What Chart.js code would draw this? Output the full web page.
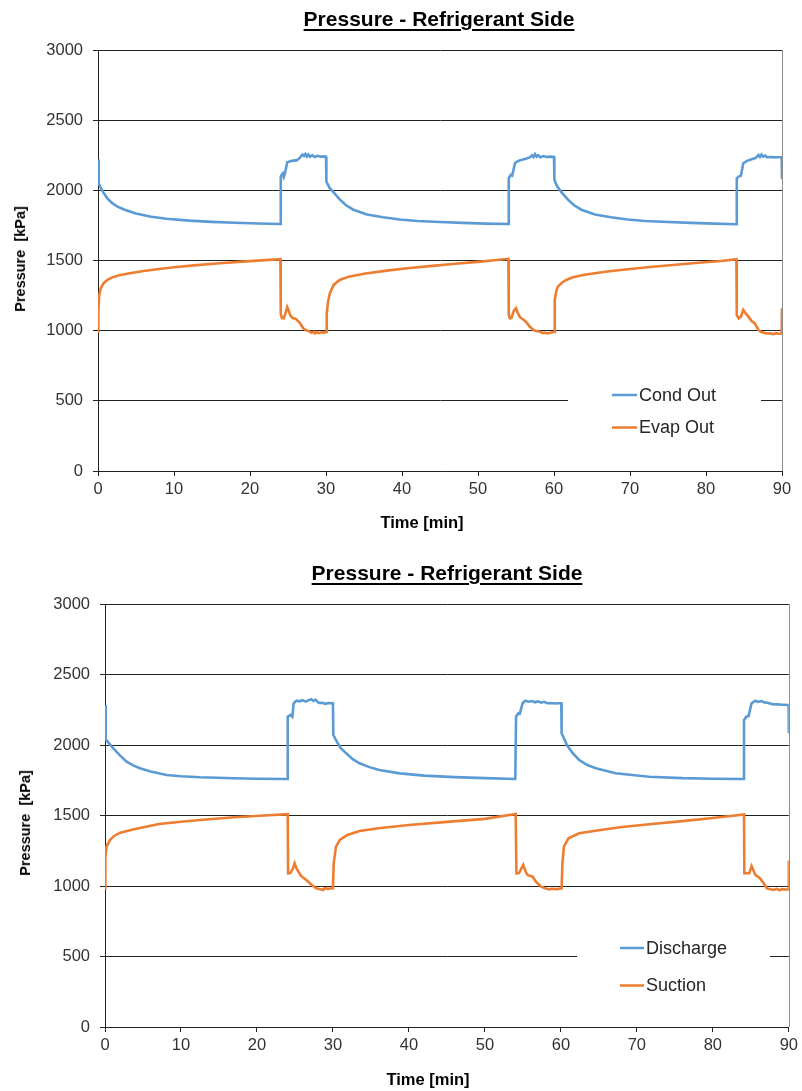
<!DOCTYPE html>
<html>
<head>
<meta charset="utf-8">
<title>Pressure - Refrigerant Side</title>
<script src="https://cdn.jsdelivr.net/npm/chart.js@4.4.0/dist/chart.umd.min.js"></script>
<style>
  html, body { margin: 0; padding: 0; background: #fff; }
  body { width: 802px; height: 1091px; position: relative; overflow: hidden;
         font-family: "Liberation Sans", Arial, sans-serif; color: #000; }
  .box { position: absolute; left: 0; width: 802px; }
  .title { position: absolute; font-weight: bold; font-size: 21px; line-height: 21px;
           white-space: nowrap; transform: translateX(-50%);
           text-decoration: underline; text-decoration-thickness: 2px; text-underline-offset: 3px; }
  .xt { position: absolute; font-weight: bold; font-size: 16.5px; line-height: 16px;
        white-space: nowrap; transform: translate(-50%, -50%); }
  .yt { position: absolute; font-weight: bold; font-size: 14.5px; line-height: 14px;
        white-space: pre; transform: translate(-50%, -50%) rotate(-90deg); }
</style>
</head>
<body>
<div class="box" style="top:0;height:545px"><canvas id="top" width="802" height="545"></canvas></div>
<div class="box" style="top:545px;height:546px"><canvas id="bottom" width="802" height="546"></canvas></div>

<div class="title" style="left:439px;top:8px">Pressure - Refrigerant Side</div>
<div class="yt" style="left:20px;top:259px">Pressure  [kPa]</div>
<div class="xt" style="left:422px;top:522px">Time [min]</div>

<div class="title" style="left:447px;top:562px">Pressure - Refrigerant Side</div>
<div class="yt" style="left:25px;top:823px">Pressure  [kPa]</div>
<div class="xt" style="left:428px;top:1079px">Time [min]</div>

<script>
// axis ticks
const xTicks = [0, 10, 20, 30, 40, 50, 60, 70, 80, 90];
const yTicks = [0, 500, 1000, 1500, 2000, 2500, 3000];

// upper chart: condenser / evaporator outlet, time [min] vs pressure [kPa]
const condT = [
  0, 0.1, 0.3, 0.7, 1.2, 1.8, 2.5, 3.5, 5, 7, 9, 12, 15, 18, 21, 24.0,
  24.05, 24.3, 24.45, 24.6, 24.9, 25.5, 26.2, 26.6, 26.9, 27.1, 27.3, 27.5, 27.7, 27.9, 28.2, 28.5, 28.9, 29.3, 29.7, 30.0,
  30.05, 30.5, 31.0, 31.8, 32.6, 33.6, 35.4, 37.5, 39.7, 42, 45, 48, 51, 54.0,
  54.05, 54.3, 54.5, 54.87, 55.3, 55.8, 56.3, 56.8, 57.1, 57.3, 57.5, 57.7, 57.9, 58.2, 58.6, 59.0, 59.5, 60.0,
  60.05, 60.4, 61.0, 61.8, 62.6, 63.6, 65.4, 67.5, 69.7, 72, 75, 78, 81, 84.0,
  84.05, 84.3, 84.6, 84.9, 85.4, 86.0, 86.5, 86.9, 87.1, 87.3, 87.5, 87.8, 88.0, 88.5, 89.0, 89.5, 89.95, 90.0
];
const condP = [
  2220, 2050, 2025, 1985, 1945, 1912, 1885, 1862, 1835, 1812, 1798, 1784, 1775, 1769, 1764, 1760,
  2100, 2120, 2095, 2120, 2200, 2210, 2215, 2235, 2255, 2245, 2260, 2240, 2255, 2240, 2250, 2238, 2246, 2240, 2242, 2240,
  2062, 2015, 1985, 1935, 1895, 1862, 1828, 1808, 1792, 1782, 1774, 1768, 1763, 1760,
  2086, 2110, 2105, 2195, 2210, 2218, 2225, 2235, 2250, 2238, 2258, 2240, 2250, 2236, 2244, 2238, 2240, 2238,
  2074, 2030, 1985, 1935, 1895, 1862, 1828, 1808, 1792, 1782, 1774, 1768, 1763, 1758,
  2086, 2098, 2105, 2193, 2210, 2222, 2230, 2252, 2238, 2255, 2240, 2248, 2236, 2238, 2235, 2236, 2236, 2080
];
const evapT = [
  0, 0.05, 0.15, 0.35, 0.7, 1.2, 1.8, 2.8, 4, 6, 8, 10, 13, 16, 19, 22, 24.0,
  24.05, 24.2, 24.45, 24.7, 24.9, 25.1, 25.3, 25.6, 26.0, 26.3, 26.6, 27.0, 27.4, 27.8, 28.1, 28.4, 28.55, 28.8, 29.0, 29.4, 29.7, 30.0,
  30.1, 30.25, 30.5, 31.0, 31.8, 33, 35, 38, 41, 44, 47, 50, 54.0,
  54.05, 54.2, 54.4, 54.7, 55.0, 55.2, 55.5, 55.8, 56.2, 56.5, 56.8, 57.2, 57.5, 57.8, 58.2, 58.5, 58.8, 59.1, 59.5, 60.0,
  60.1, 60.3, 60.5, 61.0, 61.6, 62.5, 64, 67, 70, 73, 76, 79, 82, 84.0,
  84.05, 84.3, 84.6, 84.9, 85.2, 85.6, 86.0, 86.4, 86.9, 87.2, 87.6, 88.0, 88.5, 88.8, 89.2, 89.6, 89.95, 90.0
];
const evapP = [
  995, 1150, 1250, 1300, 1335, 1360, 1378, 1395, 1408, 1425, 1440, 1452, 1467, 1480, 1492, 1503, 1510,
  1120, 1090, 1088, 1130, 1168, 1140, 1110, 1090, 1085, 1070, 1053, 1017, 1003, 995, 985, 992, 980, 990, 982, 988, 986, 990,
  1124, 1200, 1266, 1326, 1361, 1385, 1405, 1428, 1446, 1462, 1477, 1490, 1512,
  1110, 1088, 1090, 1140, 1160, 1130, 1098, 1085, 1069, 1050, 1029, 1010, 1000, 996, 993, 982, 986, 980, 985, 990,
  1219, 1280, 1314, 1340, 1361, 1380, 1398, 1422, 1440, 1455, 1470, 1484, 1497, 1510,
  1110, 1088, 1100, 1148, 1125, 1098, 1069, 1053, 1005, 992, 986, 980, 981, 975, 982, 978, 980, 1160
];

// lower chart: compressor discharge / suction
const dischT = [
  0, 0.1, 0.4, 1.1, 2, 2.85, 3.7, 4.6, 6, 8.1, 10, 12.5, 16.9, 20, 24.0,
  24.05, 24.4, 24.66, 24.83, 25.2, 25.6, 26.0, 26.4, 26.8, 27.15, 27.4, 27.7, 28.0, 28.2, 28.6, 29.0, 29.4, 30.0,
  30.05, 30.4, 31.0, 31.75, 32.6, 33.5, 34.8, 36.1, 38.8, 42, 46, 50, 54.0,
  54.1, 54.4, 54.6, 54.96, 55.3, 55.8, 56.2, 56.6, 57.0, 57.4, 57.8, 58.2, 58.6, 59.2, 59.7, 60.05,
  60.1, 60.8, 61.5, 62.4, 63.4, 64.6, 67.2, 71.6, 76, 80, 84.05,
  84.1, 84.4, 84.7, 85.1, 85.6, 86.0, 86.4, 86.8, 87.2, 87.8, 88.5, 89.2, 89.97, 90.0
];
const dischP = [
  2284, 2040, 2020, 1976, 1925, 1882, 1855, 1835, 1812, 1787, 1778, 1771, 1764, 1761, 1759,
  2201, 2213, 2200, 2296, 2314, 2310, 2318, 2308, 2318, 2324, 2312, 2322, 2305, 2298, 2300, 2292, 2298, 2296,
  2071, 2035, 1980, 1941, 1900, 1870, 1843, 1823, 1799, 1783, 1772, 1765, 1759,
  2201, 2225, 2222, 2296, 2314, 2307, 2312, 2303, 2310, 2300, 2306, 2296, 2298, 2294, 2296, 2296,
  2083, 2000, 1945, 1894, 1860, 1835, 1799, 1775, 1765, 1761, 1759,
  2177, 2201, 2205, 2296, 2314, 2306, 2312, 2302, 2300, 2290, 2288, 2286, 2284, 2083
];
const suctT = [
  0, 0.05, 0.2, 0.66, 1.2, 2, 3.7, 4.6, 7.1, 10, 12.5, 17, 21, 24.05,
  24.1, 24.4, 24.7, 24.96, 25.2, 25.6, 25.8, 26.5, 27.2, 27.8, 28.2, 28.7, 28.9, 29.3, 29.7, 30.0,
  30.1, 30.4, 30.9, 31.9, 33.5, 36, 40, 45, 50, 54.05,
  54.15, 54.5, 54.8, 55.05, 55.3, 55.6, 56.3, 56.7, 57.4, 58.0, 58.5, 58.9, 59.5, 60.1,
  60.2, 60.4, 61.0, 62.4, 65, 68, 72, 76, 80, 84.1,
  84.15, 84.8, 85.1, 85.6, 86.2, 86.7, 87.1, 88.0, 88.4, 88.8, 89.1, 89.6, 89.97, 90.0
];
const suctP = [
  983, 1208, 1280, 1326, 1355, 1378, 1400, 1412, 1440, 1456, 1468, 1488, 1500, 1510,
  1090, 1092, 1120, 1161, 1125, 1090, 1071, 1043, 1007, 983, 978, 972, 985, 980, 982, 983,
  1161, 1279, 1326, 1362, 1390, 1410, 1433, 1455, 1476, 1510,
  1090, 1092, 1125, 1149, 1110, 1078, 1066, 1031, 995, 983, 976, 980, 978, 983,
  1161, 1279, 1338, 1374, 1396, 1418, 1440, 1460, 1482, 1508,
  1090, 1090, 1142, 1078, 1055, 1019, 983, 972, 980, 970, 978, 975, 976, 1180
];

const BLUE = "#5b9bd5", ORANGE = "#ed7d31", FONT = "'Liberation Sans', Arial, sans-serif";

const zip = (xs, ys) => xs.map((x, i) => ({ x, y: ys[i] }));

// thin gray frame line on the right side of the plot
const rightEdge = {
  id: "rightEdge",
  afterDraw(chart) {
    const { ctx, chartArea: a } = chart;
    const x = Math.round(a.right) + 0.5;
    ctx.save();
    ctx.strokeStyle = "#8c8c8c"; ctx.lineWidth = 1;
    ctx.beginPath(); ctx.moveTo(x, a.top); ctx.lineTo(x, a.bottom); ctx.stroke();
    ctx.restore();
  }
};

// legend drawn inside the plot on a white patch
const boxLegend = {
  id: "boxLegend",
  afterDraw(chart, args, o) {
    const { ctx } = chart;
    ctx.save();
    ctx.fillStyle = "#fff";
    ctx.fillRect(o.x0, o.y0, o.x1 - o.x0, o.y1 - o.y0);
    ctx.font = "18px " + FONT;
    ctx.textBaseline = "middle";
    chart.data.datasets.forEach((ds, i) => {
      const y = o.rows[i];
      ctx.strokeStyle = ds.borderColor; ctx.lineWidth = 2.5;
      ctx.beginPath(); ctx.moveTo(o.lx, y); ctx.lineTo(o.lx + o.lw, y); ctx.stroke();
      ctx.fillStyle = "#262626";
      ctx.fillText(ds.label, o.lx + o.lw + 2, y + 1);
    });
    ctx.restore();
  }
};

function drawChart(id, series, geo) {
  return new Chart(document.getElementById(id), {
    type: "line",
    data: {
      datasets: series.map((s) => ({
        label: s.label, data: zip(s.t, s.p),
        borderColor: s.color, backgroundColor: s.color,
        borderWidth: 2.6, pointRadius: 0, tension: 0, fill: false,
      })),
    },
    options: {
      responsive: false, animation: false, parsing: false,
      layout: { padding: { top: geo.top, right: geo.right, left: 0, bottom: 0 } },
      plugins: { legend: { display: false }, tooltip: { enabled: false }, boxLegend: geo.legend },
      scales: {
        x: {
          type: "linear", min: 0, max: 90,
          afterBuildTicks: (s) => { s.ticks = xTicks.map((v) => ({ value: v })); },
          afterFit: (s) => { s.height = geo.xh; },
          grid: { drawOnChartArea: false, drawTicks: true, tickLength: 5, color: "#222" },
          border: { color: "#222", width: 1 },
          ticks: { padding: 4, maxRotation: 0, color: "#333", font: { family: FONT, size: 16.5 },
                   callback: (v) => String(v) },
        },
        y: {
          min: 0, max: 3000,
          afterBuildTicks: (s) => { s.ticks = yTicks.map((v) => ({ value: v })); },
          afterFit: (s) => { s.width = geo.yw; },
          grid: { color: "#222", tickLength: 5, drawTicks: true },
          border: { color: "#222", width: 1 },
          ticks: { padding: 10, color: "#333", font: { family: FONT, size: 16.5 },
                   callback: (v) => String(v) },
        },
      },
    },
    plugins: [rightEdge, boxLegend],
  });
}

drawChart("top", [
  { label: "Cond Out", t: condT, p: condP, color: BLUE },
  { label: "Evap Out", t: evapT, p: evapP, color: ORANGE },
], { top: 50, right: 20, yw: 98, xh: 74,
     legend: { x0: 568, x1: 761, y0: 375, y1: 445, lx: 612, lw: 25, rows: [395, 427.5] } });

drawChart("bottom", [
  { label: "Discharge", t: dischT, p: dischP, color: BLUE },
  { label: "Suction", t: suctT, p: suctP, color: ORANGE },
], { top: 59, right: 12, yw: 105, xh: 64,
     legend: { x0: 577, x1: 770, y0: 385, y1: 458, lx: 620, lw: 24, rows: [403, 440.5] } });
</script>
</body>
</html>
